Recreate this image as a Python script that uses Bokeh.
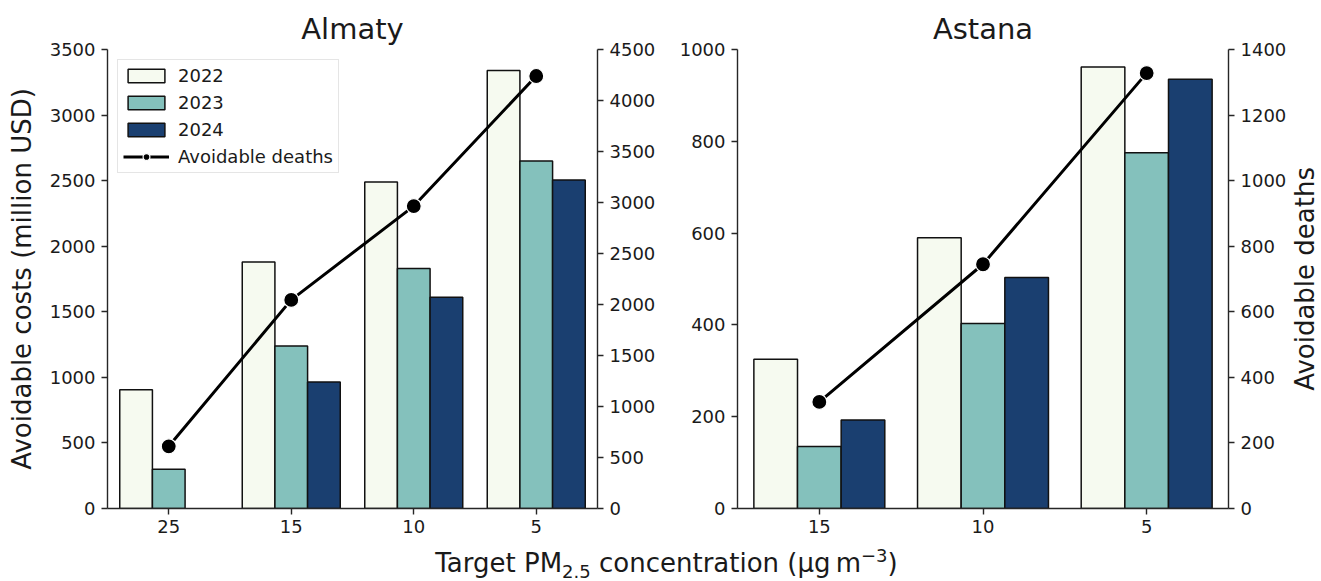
from bokeh.plotting import figure
from bokeh.models import (ColumnDataSource, Range1d, LinearAxis, FixedTicker,
                          Legend, LegendItem, Div, FactorRange)
from bokeh.transform import dodge
from bokeh.layouts import row, column
from bokeh.embed import file_html
from bokeh.resources import INLINE

# ---------------- data ----------------
years = ["2022", "2023", "2024"]

almaty_targets = ["25", "15", "10", "5"]
almaty_2022 = [905, 1880, 2490, 3340]
almaty_2023 = [300, 1240, 1830, 2650]
almaty_2024 = [None, 965, 1610, 2505]
almaty_deaths = [610, 2045, 2965, 4240]

astana_targets = ["15", "10", "5"]
astana_2022 = [325, 590, 962]
astana_2023 = [135, 403, 775]
astana_2024 = [193, 503, 935]
astana_deaths = [325, 745, 1328]

colors = ["#f6faf0", "#84c1bc", "#1a3f70"]

FONT = "DejaVu Sans"
TXT = "#1a1a1a"
AX = "#262626"


def style_axis(ax, label=None):
    ax.axis_line_color = AX
    ax.axis_line_width = 1.4
    ax.major_tick_line_color = AX
    ax.major_tick_line_width = 1.4
    ax.major_tick_in = 0
    ax.major_tick_out = 6
    ax.minor_tick_line_color = None
    ax.major_label_text_font = FONT
    ax.major_label_text_font_size = "18px"
    ax.major_label_text_color = TXT
    ax.major_label_standoff = 6
    if label:
        ax.axis_label = label
        ax.axis_label_text_font = FONT
        ax.axis_label_text_font_size = "26px"
        ax.axis_label_text_font_style = "normal"
        ax.axis_label_text_color = TXT
        ax.axis_label_standoff = 10


def panel(title, cats, s22, s23, s24, deaths, ymax, ystep, y2max, y2step,
          left_label, show_legend, width, bl, br):
    p = figure(width=width, height=550, x_range=FactorRange(*cats),
               y_range=Range1d(0, ymax), output_backend="svg",
               toolbar_location=None, min_border_left=bl,
               min_border_right=br, min_border_top=49, min_border_bottom=42)
    p.title.text = title
    p.title.align = "center"
    p.title.text_font = FONT
    p.title.text_font_size = "29px"
    p.title.text_font_style = "normal"
    p.title.text_color = TXT
    p.title.standoff = 7
    p.outline_line_color = None
    p.xgrid.grid_line_color = None
    p.ygrid.grid_line_color = None
    p.background_fill_color = "white"
    p.border_fill_color = "white"

    bw = 0.8 / 3
    offs = [-bw, 0.0, bw]
    bar_rs = []
    for series, off, col in zip([s22, s23, s24], offs, colors):
        xs = [c for c, v in zip(cats, series) if v is not None]
        ts = [v for v in series if v is not None]
        src = ColumnDataSource(dict(x=xs, top=ts))
        r = p.vbar(x=dodge("x", off, range=p.x_range), top="top", width=bw,
                   bottom=0, source=src, fill_color=col,
                   line_color="#111111", line_width=1.5)
        bar_rs.append(r)

    p.extra_y_ranges = {"deaths": Range1d(0, y2max)}
    dsrc = ColumnDataSource(dict(x=cats, y=deaths))
    lr = p.line(x="x", y="y", source=dsrc, y_range_name="deaths",
                line_color="black", line_width=3)
    sr = p.scatter(x="x", y="y", source=dsrc, y_range_name="deaths",
                   size=15, fill_color="black", line_color="white",
                   line_width=1.2)

    p.yaxis.ticker = FixedTicker(ticks=list(range(0, ymax + 1, ystep)))
    style_axis(p.yaxis[0], left_label)
    style_axis(p.xaxis[0])
    p.xaxis.major_label_standoff = 5

    rax = LinearAxis(y_range_name="deaths",
                     ticker=FixedTicker(ticks=list(range(0, y2max + 1, y2step))))
    style_axis(rax)
    p.add_layout(rax, "right")

    if show_legend:
        items = [LegendItem(label=y, renderers=[r]) for y, r in zip(years, bar_rs)]
        items.append(LegendItem(label="Avoidable deaths", renderers=[lr, sr]))
        leg = Legend(items=items, location="top_left", margin=10)
        leg.label_text_font = FONT
        leg.label_text_font_size = "18px"
        leg.label_text_color = TXT
        leg.label_height = 21
        leg.glyph_height = 17
        leg.glyph_width = 46
        leg.label_standoff = 9
        leg.spacing = 6
        leg.padding = 5
        leg.border_line_color = "#cccccc"
        leg.border_line_width = 1
        leg.background_fill_alpha = 0.85
        p.add_layout(leg)
    return p


p1 = panel("Almaty", almaty_targets, almaty_2022, almaty_2023, almaty_2024,
           almaty_deaths, 3500, 500, 4500, 500,
           "Avoidable costs (million USD)", True, 668, 107, 71)
p2 = panel("Astana", astana_targets, astana_2022, astana_2023, astana_2024,
           astana_deaths, 1000, 200, 1400, 200,
           None, False, 622, 69, 62)

ylabel_right = Div(
    text=('<div style="margin-top:49px;height:459px;width:31px;display:flex;'
          'align-items:center;justify-content:center;">'
          '<div style="writing-mode:vertical-rl;transform:rotate(180deg);'
          'font-family:\'DejaVu Sans\';font-size:26px;line-height:31px;'
          'color:#1a1a1a;white-space:nowrap;">Avoidable deaths</div></div>'),
    width=31, height=550, margin=(0, 0, 0, 0))

xlabel = Div(
    text=('<div style="width:1321px;padding-left:12px;box-sizing:border-box;'
          'text-align:center;font-family:\'DejaVu Sans\';'
          'font-size:26px;line-height:27px;margin:0;color:#1a1a1a;white-space:nowrap;">'
          'Target PM<sub style="font-size:18px;line-height:0;">2.5</sub> concentration '
          '(µg&#8201;m<sup style="font-size:18px;line-height:0;">&#8722;3</sup>)</div>'),
    width=1321, height=31, margin=(0, 0, 0, 0))

layout = column(row(p1, p2, ylabel_right, spacing=0), xlabel, spacing=0)

open("out.html", "w").write(file_html(layout, INLINE))
